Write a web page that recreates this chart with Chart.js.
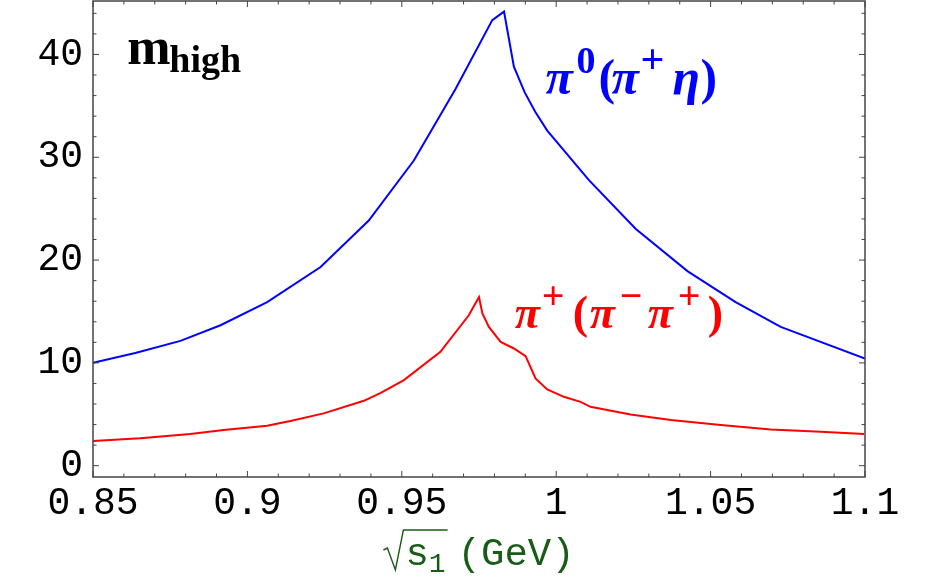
<!DOCTYPE html>
<html>
<head>
<meta charset="utf-8">
<script src="https://cdn.jsdelivr.net/npm/chart.js@4/dist/chart.umd.min.js"></script>
<style>
  html, body { margin: 0; padding: 0; background: #fff; }
  #wrap { width: 936px; height: 578px; }
</style>
</head>
<body>
<div id="wrap"><canvas id="chart"></canvas></div>
<script>
// data
const blueX = [0.85, 0.8637, 0.8783, 0.8913, 0.9064, 0.9237, 0.9393, 0.9539, 0.9674, 0.9793, 0.9831,
  0.9863, 0.9898, 0.9933, 0.9971, 1.0106, 1.0257, 1.0425, 1.0581, 1.0727, 1.1];
const blueY = [10.0, 10.97, 12.14, 13.66, 15.92, 19.32, 23.85, 29.68, 36.64, 43.34, 44.17,
  38.81, 36.31, 34.37, 32.59, 27.77, 23.05, 18.93, 15.92, 13.5, 10.43];

const redX = [0.85, 0.8653, 0.8815, 0.8923, 0.9064, 0.9139, 0.9247, 0.9377, 0.9432, 0.9507, 0.9625,
  0.9717, 0.975, 0.9761, 0.9782, 0.982, 0.9863, 0.9901, 0.9933, 0.9971, 1.0025, 1.0079,
  1.0111, 1.0241, 1.0371, 1.0533, 1.0695, 1.0857, 1.0997];
const redY = [2.4, 2.66, 3.08, 3.47, 3.88, 4.34, 5.09, 6.31, 7.09, 8.32, 11.07,
  14.63, 16.41, 14.8, 13.5, 12.04, 11.4, 10.65, 8.49, 7.42, 6.7, 6.21,
  5.73, 4.99, 4.44, 3.95, 3.53, 3.3, 3.08];

const xTicks = [0.85, 0.9, 0.95, 1, 1.05, 1.1];
const xTickLabels = ['0.85', '0.9', '0.95', '1', '1.05', '1.1'];
const yTicks = [0, 10, 20, 30, 40];
const yTickLabels = ['0', '10', '20', '30', '40'];

const monoFont = '"Liberation Mono", "Courier New", monospace';
const serif = '"Liberation Serif", "Times New Roman", serif';

// text annotations, anchored in data units; dx is the offset of each piece in px
const notes = [
  { x: 0.8611, y: 39.1, color: '#000', runs: [
    { t: 'm', font: 'bold 52px ' + serif, dx: 0, dy: 0 },
    { t: 'high', font: 'bold 38px ' + serif, dx: 42, dy: 8 }] },
  { x: 0.9965, y: 36.2, color: '#0000ff', runs: [
    { t: 'π', font: 'bold italic 50px ' + serif, dx: 0, dy: 0 },
    { t: '0', font: 'bold 38px ' + serif, dx: 31, dy: -21 },
    { t: '(', font: 'bold 50px ' + serif, dx: 53, dy: 0 },
    { t: 'π', font: 'bold italic 50px ' + serif, dx: 66, dy: 0 },
    { t: '+', font: 'bold 42px ' + serif, dx: 95, dy: -21 },
    { t: 'η', font: 'bold italic 50px ' + serif, dx: 127, dy: 0 },
    { t: ')', font: 'bold 50px ' + serif, dx: 155, dy: 0 }] },
  { x: 0.9866, y: 13.37, color: '#ff0000', runs: [
    { t: 'π', font: 'bold italic 46px ' + serif, dx: 0, dy: 0 },
    { t: '+', font: 'bold 40px ' + serif, dx: 27, dy: -19 },
    { t: '(', font: 'bold 46px ' + serif, dx: 58, dy: 0 },
    { t: 'π', font: 'bold italic 46px ' + serif, dx: 75, dy: 0 },
    { t: '−', font: 'bold 40px ' + serif, dx: 105, dy: -19 },
    { t: 'π', font: 'bold italic 46px ' + serif, dx: 133, dy: 0 },
    { t: '+', font: 'bold 40px ' + serif, dx: 163, dy: -19 },
    { t: ')', font: 'bold 46px ' + serif, dx: 193, dy: 0 }] }
];

function pts(xs, ys) {
  return xs.map((x, i) => ({ x: x, y: ys[i] }));
}

// frame, inward ticks, notes and the axis title
const decor = {
  id: 'decor',
  afterDraw(chart) {
    const ctx = chart.ctx;
    const a = chart.chartArea;
    const xs = chart.scales.x;
    const ys = chart.scales.y;
    ctx.save();
    ctx.strokeStyle = '#444';
    ctx.lineWidth = 1.5;
    ctx.strokeRect(a.left, a.top, a.right - a.left, a.bottom - a.top);

    ctx.lineWidth = 1;
    for (let i = 0; i <= 25; i++) {
      const v = 0.85 + i * 0.01;
      const px = xs.getPixelForValue(v);
      const len = i % 5 === 0 ? 6 : 3.5;
      ctx.beginPath();
      ctx.moveTo(px, a.bottom); ctx.lineTo(px, a.bottom - len);
      ctx.moveTo(px, a.top); ctx.lineTo(px, a.top + len);
      ctx.stroke();
    }
    for (let v = 0; v <= 44; v += 2) {
      const py = ys.getPixelForValue(v);
      const len = v % 10 === 0 ? 6 : 3.5;
      ctx.beginPath();
      ctx.moveTo(a.left, py); ctx.lineTo(a.left + len, py);
      ctx.moveTo(a.right, py); ctx.lineTo(a.right - len, py);
      ctx.stroke();
    }

    ctx.textBaseline = 'alphabetic';
    ctx.textAlign = 'left';
    notes.forEach(n => {
      const px = xs.getPixelForValue(n.x);
      const py = ys.getPixelForValue(n.y);
      ctx.fillStyle = n.color;
      n.runs.forEach(r => {
        ctx.font = r.font;
        ctx.fillText(r.t, px + r.dx, py + r.dy);
      });
    });

    // axis title: sqrt(s1) (GeV)
    const green = '#185c18';
    const cx = (a.left + a.right) / 2;
    const base = 565;
    ctx.font = '39px ' + monoFont;
    const wS = ctx.measureText('s').width;
    const wG = ctx.measureText('(GeV)').width;
    ctx.font = '28px ' + monoFont;
    const w1 = ctx.measureText('1').width;
    const wRad = 22, gap = 12;
    let x0 = cx - (wRad + wS + w1 + gap + wG) / 2;
    ctx.strokeStyle = green;
    ctx.fillStyle = green;
    ctx.lineWidth = 1.4;
    ctx.beginPath();
    ctx.moveTo(x0, base - 15);
    ctx.lineTo(x0 + 4, base - 17);
    ctx.lineTo(x0 + 12, base + 5);
    ctx.lineTo(x0 + 20, base - 35);
    ctx.lineTo(x0 + wRad + wS + w1 + 2, base - 35);
    ctx.stroke();
    x0 += wRad;
    ctx.font = '39px ' + monoFont;
    ctx.fillText('s', x0, base);
    x0 += wS;
    ctx.font = '28px ' + monoFont;
    ctx.fillText('1', x0, base + 7);
    x0 += w1 + gap;
    ctx.font = '39px ' + monoFont;
    ctx.fillText('(GeV)', x0, base);
    ctx.restore();
  }
};

new Chart(document.getElementById('chart').getContext('2d'), {
  type: 'line',
  data: {
    datasets: [
      {
        label: 'pi0 (pi+ eta)',
        data: pts(blueX, blueY),
        borderColor: '#0000ff',
        borderWidth: 2,
        pointRadius: 0,
        tension: 0
      },
      {
        label: 'pi+ (pi- pi+)',
        data: pts(redX, redY),
        borderColor: '#ff0000',
        borderWidth: 2,
        pointRadius: 0,
        tension: 0
      }
    ]
  },
  options: {
    responsive: true,
    maintainAspectRatio: false,
    animation: false,
    layout: { padding: { left: 0, right: 71, top: 1, bottom: 0 } },
    plugins: { legend: { display: false }, tooltip: { enabled: false } },
    scales: {
      x: {
        type: 'linear',
        min: 0.85,
        max: 1.1,
        afterBuildTicks: s => { s.ticks = xTicks.map(v => ({ value: v })); },
        afterFit: s => { s.height = 101; s.paddingLeft = 0; s.paddingRight = 0; },
        grid: { display: false, drawTicks: false },
        border: { display: false },
        ticks: {
          padding: 4,
          color: '#000',
          maxRotation: 0,
          font: { family: monoFont, size: 38 },
          callback: v => {
            const i = xTicks.findIndex(t => Math.abs(t - v) < 1e-6);
            return i >= 0 ? xTickLabels[i] : '';
          }
        }
      },
      y: {
        min: -1.1,
        max: 45.2,
        afterBuildTicks: s => { s.ticks = yTicks.map(v => ({ value: v })); },
        afterFit: s => { s.width = 93; s.paddingTop = 0; s.paddingBottom = 0; },
        grid: { display: false, drawTicks: false },
        border: { display: false },
        ticks: {
          padding: 10,
          color: '#000',
          font: { family: monoFont, size: 38 },
          callback: v => {
            const i = yTicks.indexOf(v);
            return i >= 0 ? yTickLabels[i] : '';
          }
        }
      }
    }
  },
  plugins: [decor]
});
</script>
</body>
</html>
